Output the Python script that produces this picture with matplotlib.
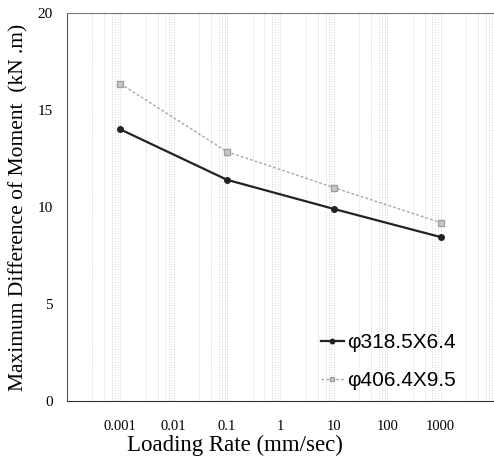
import matplotlib
matplotlib.use('Agg')
import matplotlib.pyplot as plt
from matplotlib.ticker import FixedLocator, NullFormatter, LogLocator

# data
rates = [0.001, 0.1, 10, 1000]
moment_318 = [14.0, 11.4, 9.9, 8.45]
moment_406 = [16.35, 12.85, 11.0, 9.2]
labels = ['\u03c6318.5X6.4', '\u03c6406.4X9.5']
xticks = [0.001, 0.01, 0.1, 1, 10, 100, 1000]
xticklabels = ['0.001', '0.01', '0.1', '1', '10', '100', '1000']
yticks = [0, 5, 10, 15, 20]

fig = plt.figure(figsize=(4.94, 4.68), dpi=100)
ax = fig.add_axes([0.1356, 0.1432, 0.8644, 0.8290])

ax.plot(rates, moment_318, color='#222222', lw=1.6, marker='o', ms=4, label=labels[0])
ax.plot(rates, moment_406, color='#a8a8a8', lw=1.0, ls='--', dashes=(2, 1.5),
        marker='s', ms=4, mfc='#c8c8c8', mec='#a0a0a0', label=labels[1])

ax.set_xscale('log')
ax.set_xlim(1e-4, 1e4)
ax.set_ylim(0, 20)
ax.xaxis.set_major_locator(FixedLocator(xticks))
ax.set_xticklabels(xticklabels, family='Liberation Serif', fontsize=10.5)
ax.xaxis.set_minor_locator(LogLocator(base=10, subs=[3, 5, 7, 8, 9], numticks=20))
ax.xaxis.set_minor_formatter(NullFormatter())
ax.set_yticks(yticks)
ax.set_yticklabels([str(v) for v in yticks], family='Liberation Serif', fontsize=11)
ax.tick_params(which='both', length=0, pad=10)
ax.tick_params(axis='x', pad=14)

# faint scanned-looking vertical grid
ax.grid(True, which='both', axis='x', color='#d2d2d2', ls=':', lw=0.7)
ax.set_axisbelow(True)

ax.spines['right'].set_visible(False)
ax.spines['top'].set_color('#777777')
ax.spines['left'].set_color('#555555')
ax.spines['bottom'].set_color('#333333')

ax.set_xlabel('Loading Rate (mm/sec)', family='Liberation Serif', fontsize=16.5)
ax.xaxis.set_label_coords(0.393, -0.088)
ax.set_ylabel('Maximum Difference of Moment  (kN .m)', family='Liberation Serif',
              fontsize=15.5)
ax.yaxis.set_label_coords(-0.09, 0.5)

leg = ax.legend(loc='lower left', bbox_to_anchor=(0.55, -0.02), frameon=False,
                handlelength=1.1, handletextpad=0.15, labelspacing=0.9,
                markerscale=0.8, prop={'family': 'Liberation Sans', 'size': 15})

fig.savefig('out.png', dpi=100)
